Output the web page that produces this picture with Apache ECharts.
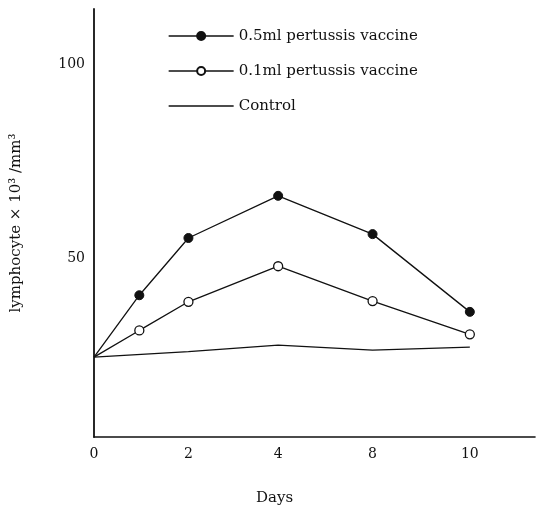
<!DOCTYPE html>
<html>
<head>
<meta charset="utf-8">
<script src="https://cdn.jsdelivr.net/npm/echarts@6/dist/echarts.min.js"></script>
<style>
  html, body { margin: 0; padding: 0; background: #fff; }
  #chart { width: 542px; height: 507px; }
</style>
</head>
<body>
<div id="chart"></div>
<script>
// days sampled, and where each sits along the (non-linear) day axis
var days = ['0', '1', '2', '4', '8', '10']
var dayPos = [0, 0.48, 1, 1.95, 2.95, 3.98]
var tickLabels = ['0', '2', '4', '8', '10']
var tickPos = [0, 1, 1.95, 2.95, 3.98]

var dose05 = [24.4, 40.4, 55.2, 66.1, 56.2, 36.1]
var dose01 = [24.4, 31.3, 38.7, 47.9, 38.9, 30.3]
var control = [24.4, null, 25.8, 27.5, 26.2, 27.0]

var yLabels = [50, 100]

var font = 'DejaVu Serif'

// day 0 is the common start point, drawn without a marker
function pairs(vals) {
  var out = []
  vals.forEach(function (v, i) {
    if (v === null) return
    var item = { value: [dayPos[i], v] }
    if (i === 0) item.symbol = 'none'
    out.push(item)
  })
  return out
}

var myChart = echarts.init(document.getElementById('chart'))

var option = {
  animation: false,
  backgroundColor: '#fff',
  grid: { left: 94, right: 7, top: 9, bottom: 70 },
  legend: {
    orient: 'vertical',
    left: 163,
    top: 21,
    itemWidth: 65,
    itemHeight: 10,
    itemGap: 15,
    lineStyle: { width: 1.3 },
    textStyle: { fontFamily: font, fontSize: 15, color: '#111', lineHeight: 20 },
    data: [
      '0.5ml pertussis vaccine',
      '0.1ml pertussis vaccine',
      { name: 'Control', icon: 'path://M0,0 L65,0 L65,1.3 L0,1.3 Z' }
    ]
  },
  xAxis: {
    type: 'value',
    min: 0,
    max: 4.67,
    splitLine: { show: false },
    axisTick: { show: false },
    axisLine: { lineStyle: { color: '#111', width: 1.6 } },
    axisLabel: {
      customValues: tickPos,
      margin: 10,
      fontFamily: font,
      fontSize: 14,
      color: '#111',
      formatter: function (v) {
        var i = tickPos.indexOf(v)
        return i >= 0 ? tickLabels[i] : ''
      }
    }
  },
  yAxis: {
    type: 'value',
    min: 3.75,
    max: 114.4,
    splitLine: { show: false },
    axisTick: { show: false },
    axisLine: { show: true, lineStyle: { color: '#111', width: 1.8 } },
    axisLabel: {
      customValues: yLabels,
      margin: 9,
      fontFamily: font,
      fontSize: 14,
      color: '#111'
    },
    name: 'lymphocyte \u00d7 10\u00b3 /mm\u00b3',
    nameLocation: 'middle',
    nameGap: 70,
    nameTextStyle: { fontFamily: font, fontSize: 15, color: '#111' }
  },
  graphic: [{
    type: 'text',
    left: 256,
    top: 491,
    style: { text: 'Days', fontFamily: font, fontSize: 15, fill: '#111' }
  }],
  series: [
    {
      name: '0.5ml pertussis vaccine',
      type: 'line',
      data: pairs(dose05),
      symbol: 'circle',
      symbolSize: 9,
      lineStyle: { color: '#111', width: 1.3 },
      itemStyle: { color: '#111', borderColor: '#111', borderWidth: 1 }
    },
    {
      name: '0.1ml pertussis vaccine',
      type: 'line',
      data: pairs(dose01),
      symbol: 'circle',
      symbolSize: 9,
      lineStyle: { color: '#111', width: 1.3 },
      itemStyle: { color: '#fff', borderColor: '#111', borderWidth: 1.3 }
    },
    {
      name: 'Control',
      type: 'line',
      data: pairs(control),
      symbol: 'none',
      lineStyle: { color: '#111', width: 1.3 },
      itemStyle: { color: '#111' }
    }
  ]
}

myChart.setOption(option)
</script>
</body>
</html>
